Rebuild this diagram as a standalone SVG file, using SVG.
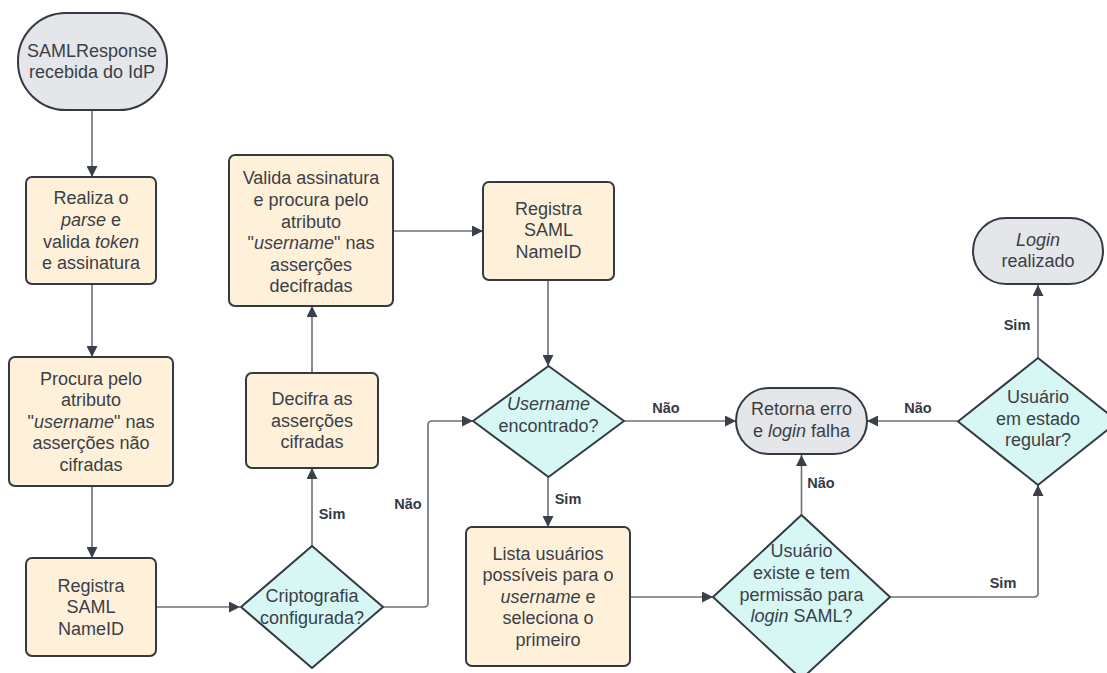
<svg xmlns="http://www.w3.org/2000/svg" width="1107" height="673" viewBox="0 0 1107 673">
  <defs>
    <marker id="arrow" viewBox="0 0 10 10" refX="10" refY="5" markerWidth="11" markerHeight="11" markerUnits="userSpaceOnUse" orient="auto">
      <path d="M0,0 L10,5 L0,10 Z" fill="#3a4049"/>
    </marker>
    <style>
      .term { fill: #e4e6ea; stroke: #333a44; stroke-width: 2; }
      .proc { fill: #fff1d9; stroke: #333a44; stroke-width: 2; }
      .dec { fill: #d7f7f5; stroke: #333a44; stroke-width: 2; stroke-linejoin: round; }
      .lbl { font-family: "Liberation Sans", Arial, sans-serif; font-size: 18px; fill: #3a3f47; text-anchor: middle; }
      .lbl .i { font-style: italic; }
      .edge { fill: none; stroke: #6b6f76; stroke-width: 1.6; marker-end: url(#arrow); }
      .tag { font-family: "Liberation Sans", Arial, sans-serif; font-size: 14.5px; font-weight: bold; fill: #333a44; text-anchor: middle; }
    </style>
  </defs>
  <rect width="1107" height="673" fill="#ffffff"/>

  <!-- connectors -->
  <g id="connectors">
    <path class="edge" d="M92,109 V177"/>
    <path class="edge" d="M92,284 V357"/>
    <path class="edge" d="M92,486 V558"/>
    <path class="edge" d="M156,607 H240"/>
    <path class="edge" d="M312,546 V468"/>
    <path class="edge" d="M312,373 V306"/>
    <path class="edge" d="M393,231 H483"/>
    <path class="edge" d="M548,280 V366"/>
    <path class="edge" d="M383,607 H424 Q428,607 428,603 V425 Q428,421 432,421 H473"/>
    <path class="edge" d="M548,477 V527"/>
    <path class="edge" d="M624,421 H736"/>
    <path class="edge" d="M630,597 H713"/>
    <path class="edge" d="M801.5,515 V455"/>
    <path class="edge" d="M890,597 H1034 Q1038,597 1038,593 V485"/>
    <path class="edge" d="M958,421 H867"/>
    <path class="edge" d="M1038,358 V285"/>
    <text class="tag" x="332" y="519">Sim</text>
    <text class="tag" x="408" y="509">Não</text>
    <text class="tag" x="568" y="504">Sim</text>
    <text class="tag" x="666" y="413">Não</text>
    <text class="tag" x="821" y="488">Não</text>
    <text class="tag" x="1003" y="588">Sim</text>
    <text class="tag" x="918" y="413">Não</text>
    <text class="tag" x="1017" y="330">Sim</text>
  </g>

  <g id="start">
    <rect class="term" x="18" y="13" width="149" height="97" rx="48" ry="48"/>
    <text class="lbl" x="92"><tspan x="92" y="56.5">SAMLResponse</tspan><tspan x="92" y="78.1">recebida do IdP</tspan></text>
  </g>

  <g id="parse">
    <rect class="proc" x="26" y="177" width="130" height="107" rx="6"/>
    <text class="lbl"><tspan x="91" y="204.4">Realiza o</tspan><tspan x="91" y="226"><tspan class="i">parse</tspan> e</tspan><tspan x="91" y="247.6">valida <tspan class="i">token</tspan></tspan><tspan x="91" y="269.2">e assinatura</tspan></text>
  </g>

  <g id="search-plain">
    <rect class="proc" x="9" y="357" width="164" height="129" rx="6"/>
    <text class="lbl"><tspan x="91" y="384.6">Procura pelo</tspan><tspan x="91" y="406.2">atributo</tspan><tspan x="91" y="427.8">"<tspan class="i">username</tspan>" nas</tspan><tspan x="91" y="449.4">asserções não</tspan><tspan x="91" y="471">cifradas</tspan></text>
  </g>

  <g id="nameid-1">
    <rect class="proc" x="26" y="558" width="130" height="98" rx="6"/>
    <text class="lbl"><tspan x="91" y="591.7">Registra</tspan><tspan x="91" y="613.3">SAML</tspan><tspan x="91" y="634.9">NameID</tspan></text>
  </g>

  <g id="crypto">
    <path class="dec" d="M312,546 L383,607 L312,668 L241,607 Z"/>
    <text class="lbl"><tspan x="312" y="602">Criptografia</tspan><tspan x="312" y="623.6">configurada?</tspan></text>
  </g>

  <g id="decrypt">
    <rect class="proc" x="246" y="373" width="132" height="95" rx="6"/>
    <text class="lbl"><tspan x="312" y="405.2">Decifra as</tspan><tspan x="312" y="426.8">asserções</tspan><tspan x="312" y="448.4">cifradas</tspan></text>
  </g>

  <g id="search-decrypted">
    <rect class="proc" x="229" y="155" width="164" height="151" rx="6"/>
    <text class="lbl"><tspan x="311" y="184.3">Valida assinatura</tspan><tspan x="311" y="205.9">e procura pelo</tspan><tspan x="311" y="227.5">atributo</tspan><tspan x="311" y="249.1">"<tspan class="i">username</tspan>" nas</tspan><tspan x="311" y="270.7">asserções</tspan><tspan x="311" y="292.3">decifradas</tspan></text>
  </g>

  <g id="nameid-2">
    <rect class="proc" x="483" y="182" width="131" height="98" rx="6"/>
    <text class="lbl"><tspan x="548.5" y="214.7">Registra</tspan><tspan x="548.5" y="236.3">SAML</tspan><tspan x="548.5" y="257.9">NameID</tspan></text>
  </g>

  <g id="username-found">
    <path class="dec" d="M548.5,366 L624,421 L548.5,477 L473,421 Z"/>
    <text class="lbl"><tspan class="i" x="548.5" y="410">Username</tspan><tspan x="548.5" y="431.6">encontrado?</tspan></text>
  </g>

  <g id="error">
    <rect class="term" x="736" y="388" width="131" height="66" rx="33" ry="33"/>
    <text class="lbl"><tspan x="801.5" y="415.3">Retorna erro</tspan><tspan x="801.5" y="436.9">e <tspan class="i">login</tspan> falha</tspan></text>
  </g>

  <g id="list-users">
    <rect class="proc" x="466" y="527" width="164" height="139" rx="6"/>
    <text class="lbl"><tspan x="548" y="559.6">Lista usuários</tspan><tspan x="548" y="581.2">possíveis para o</tspan><tspan x="548" y="602.8"><tspan class="i">username</tspan> e</tspan><tspan x="548" y="624.4">seleciona o</tspan><tspan x="548" y="646">primeiro</tspan></text>
  </g>

  <g id="user-allowed">
    <path class="dec" d="M801.5,515 L890,597 L801.5,679 L713,597 Z"/>
    <text class="lbl"><tspan x="801.5" y="557.3">Usuário</tspan><tspan x="801.5" y="578.9">existe e tem</tspan><tspan x="801.5" y="600.5">permissão para</tspan><tspan x="801.5" y="622.1"><tspan class="i">login</tspan> SAML?</tspan></text>
  </g>

  <g id="user-regular">
    <path class="dec" d="M1038,358 L1118,421.5 L1038,485 L958,421.5 Z"/>
    <text class="lbl"><tspan x="1038" y="403">Usuário</tspan><tspan x="1038" y="424.6">em estado</tspan><tspan x="1038" y="446.2">regular?</tspan></text>
  </g>

  <g id="success">
    <rect class="term" x="973" y="218" width="130" height="66" rx="33" ry="33"/>
    <text class="lbl"><tspan class="i" x="1038" y="245.5">Login</tspan><tspan x="1038" y="267.1">realizado</tspan></text>
  </g>
</svg>
